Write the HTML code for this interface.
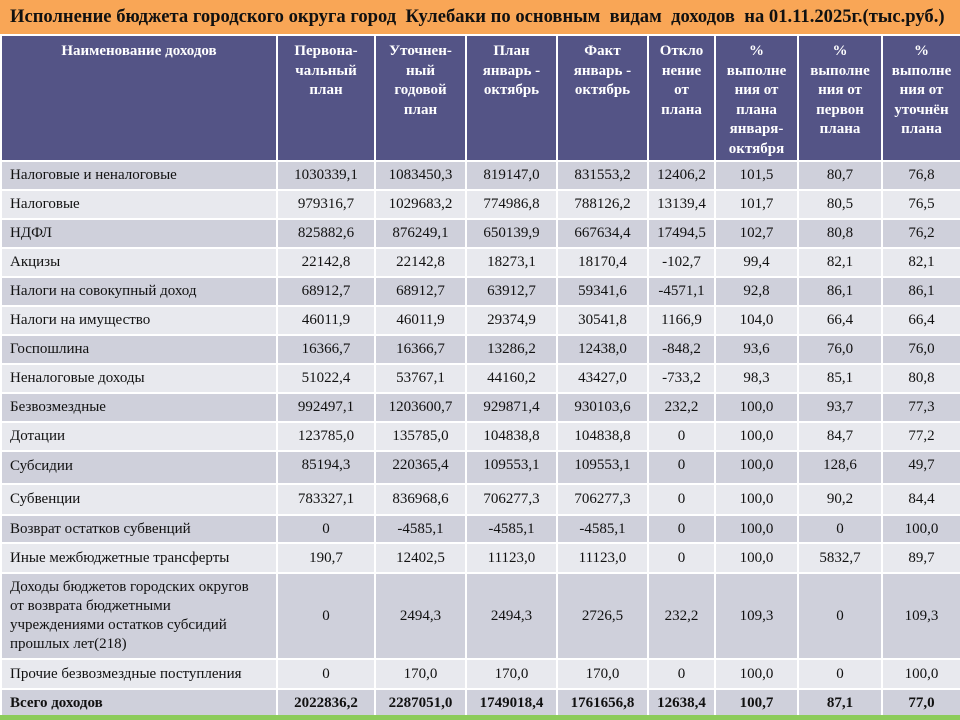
<!DOCTYPE html>
<html><head><meta charset="utf-8"><style>
body{margin:0;width:960px;height:720px;overflow:hidden;background:#fff;font-family:"Liberation Serif","Noto Serif CJK SC",serif;}
.title{position:absolute;left:0;top:0;width:960px;height:34px;background:#F9A656;font-weight:bold;font-size:18.6px;line-height:34px;padding-left:10px;box-sizing:border-box;color:#111;white-space:nowrap}
table{position:absolute;left:0;top:34px;width:960px;border-collapse:collapse;table-layout:fixed;font-size:15px;color:#111}
td,th{border:2px solid #fff;padding:0;text-align:center;vertical-align:middle}
th{background:#545486;color:#fff;font-weight:bold;vertical-align:top;padding-top:6px;line-height:19.5px;font-size:15px}
td:first-child{text-align:left;padding-left:8px;line-height:19px}
tr.d td{background:#CFD0DB}
tr.l td{background:#E8E9EE}
tr.b td{font-weight:bold}
.g{position:absolute;left:0;top:715px;width:960px;height:5px;background:#8CCB5A}
</style></head><body>
<div class="title">Исполнение бюджета городского округа город&nbsp; Кулебаки по основным&nbsp; видам&nbsp; доходов&nbsp; на 01.11.2025г.(тыс.руб.)</div>
<table>
<colgroup><col style="width:276px"><col style="width:98px"><col style="width:91px"><col style="width:91px"><col style="width:91px"><col style="width:67px"><col style="width:83px"><col style="width:84px"><col style="width:79px"></colgroup>
<tr style="height:126px"><th>Наименование доходов</th><th>Первона-<br>чальный<br>план</th><th>Уточнен-<br>ный<br>годовой<br>план</th><th>План<br>январь -<br>октябрь</th><th>Факт<br>январь -<br>октябрь</th><th>Откло<br>нение<br>от<br>плана</th><th>%<br>выполне<br>ния от<br>плана<br>января-<br>октября</th><th>%<br>выполне<br>ния от<br>первон<br>плана</th><th>%<br>выполне<br>ния от<br>уточнён<br>плана</th></tr>
<tr class="d" style="height:29px"><td>Налоговые и неналоговые</td><td>1030339,1</td><td>1083450,3</td><td>819147,0</td><td>831553,2</td><td>12406,2</td><td>101,5</td><td>80,7</td><td>76,8</td></tr>
<tr class="l" style="height:29px"><td>Налоговые</td><td>979316,7</td><td>1029683,2</td><td>774986,8</td><td>788126,2</td><td>13139,4</td><td>101,7</td><td>80,5</td><td>76,5</td></tr>
<tr class="d" style="height:29px"><td>НДФЛ</td><td>825882,6</td><td>876249,1</td><td>650139,9</td><td>667634,4</td><td>17494,5</td><td>102,7</td><td>80,8</td><td>76,2</td></tr>
<tr class="l" style="height:29px"><td>Акцизы</td><td>22142,8</td><td>22142,8</td><td>18273,1</td><td>18170,4</td><td>-102,7</td><td>99,4</td><td>82,1</td><td>82,1</td></tr>
<tr class="d" style="height:29px"><td>Налоги на совокупный доход</td><td>68912,7</td><td>68912,7</td><td>63912,7</td><td>59341,6</td><td>-4571,1</td><td>92,8</td><td>86,1</td><td>86,1</td></tr>
<tr class="l" style="height:29px"><td>Налоги на имущество</td><td>46011,9</td><td>46011,9</td><td>29374,9</td><td>30541,8</td><td>1166,9</td><td>104,0</td><td>66,4</td><td>66,4</td></tr>
<tr class="d" style="height:29px"><td>Госпошлина</td><td>16366,7</td><td>16366,7</td><td>13286,2</td><td>12438,0</td><td>-848,2</td><td>93,6</td><td>76,0</td><td>76,0</td></tr>
<tr class="l" style="height:29px"><td>Неналоговые доходы</td><td>51022,4</td><td>53767,1</td><td>44160,2</td><td>43427,0</td><td>-733,2</td><td>98,3</td><td>85,1</td><td>80,8</td></tr>
<tr class="d" style="height:29px"><td>Безвозмездные</td><td>992497,1</td><td>1203600,7</td><td>929871,4</td><td>930103,6</td><td>232,2</td><td>100,0</td><td>93,7</td><td>77,3</td></tr>
<tr class="l" style="height:29px"><td>Дотации</td><td>123785,0</td><td>135785,0</td><td>104838,8</td><td>104838,8</td><td>0</td><td>100,0</td><td>84,7</td><td>77,2</td></tr>
<tr class="d" style="height:33px"><td style="vertical-align:top;padding-top:5px">Субсидии</td><td style="vertical-align:top;padding-top:5px">85194,3</td><td style="vertical-align:top;padding-top:5px">220365,4</td><td style="vertical-align:top;padding-top:5px">109553,1</td><td style="vertical-align:top;padding-top:5px">109553,1</td><td style="vertical-align:top;padding-top:5px">0</td><td style="vertical-align:top;padding-top:5px">100,0</td><td style="vertical-align:top;padding-top:5px">128,6</td><td style="vertical-align:top;padding-top:5px">49,7</td></tr>
<tr class="l" style="height:31px"><td>Субвенции</td><td>783327,1</td><td>836968,6</td><td>706277,3</td><td>706277,3</td><td>0</td><td>100,0</td><td>90,2</td><td>84,4</td></tr>
<tr class="d" style="height:28px"><td>Возврат остатков субвенций</td><td>0</td><td>-4585,1</td><td>-4585,1</td><td>-4585,1</td><td>0</td><td>100,0</td><td>0</td><td>100,0</td></tr>
<tr class="l" style="height:30px"><td>Иные межбюджетные трансферты</td><td>190,7</td><td>12402,5</td><td>11123,0</td><td>11123,0</td><td>0</td><td>100,0</td><td>5832,7</td><td>89,7</td></tr>
<tr class="d" style="height:86px"><td>Доходы бюджетов городских округов<br>от возврата бюджетными<br>учреждениями остатков субсидий<br>прошлых лет(218)</td><td>0</td><td>2494,3</td><td>2494,3</td><td>2726,5</td><td>232,2</td><td>109,3</td><td>0</td><td>109,3</td></tr>
<tr class="l" style="height:30px"><td>Прочие безвозмездные поступления</td><td>0</td><td>170,0</td><td>170,0</td><td>170,0</td><td>0</td><td>100,0</td><td>0</td><td>100,0</td></tr>
<tr class="d b" style="height:28px"><td>Всего доходов</td><td>2022836,2</td><td>2287051,0</td><td>1749018,4</td><td>1761656,8</td><td>12638,4</td><td>100,7</td><td>87,1</td><td>77,0</td></tr>
</table>
<div class="g"></div>
</body></html>
